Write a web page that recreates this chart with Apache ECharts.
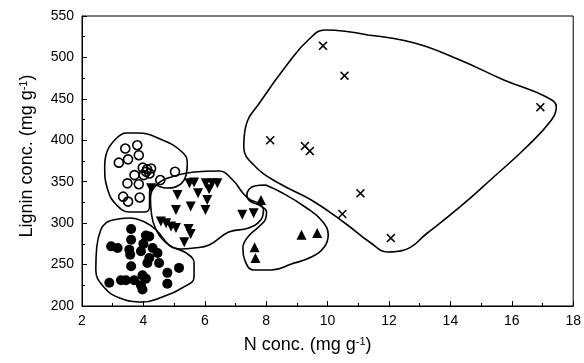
<!DOCTYPE html>
<html>
<head>
<meta charset="utf-8">
<script src="https://cdn.jsdelivr.net/npm/echarts@6/dist/echarts.min.js"></script>
<style>
html,body{margin:0;padding:0;background:#fff;}
#chart{width:584px;height:363px;}
</style>
</head>
<body>
<div id="chart"></div>
<script>
// ---- data (N conc., Lignin conc.) ----
var openCircles = [[3.41,390],[3.8,394],[3.85,382],[3.5,377],[3.2,373],[3.98,367],[4.25,366],[4.09,362],[4.2,360],[3.71,358],[4.01,358],[4.55,352],[5.03,362],[3.48,348],[3.85,347],[3.34,332],[3.5,326],[3.88,331],[4.12,365]];
var filledCircles = [[3.6,293],[4.19,284],[4.08,285],[3.6,280],[2.95,272],[3.16,270],[3.54,268],[3.92,266],[4.46,264],[4.19,258],[3.57,262],[4.13,252],[4.51,252],[3.6,248],[4.78,240],[5.16,246],[3.97,237],[2.89,228],[3.27,231],[3.43,231],[3.7,231],[3.92,225],[3.97,220],[4.78,227],[4.08,233],[4.3,270],[4.0,275]];
var downTriangles = [[4.25,342],[5.11,334],[5.5,348],[5.65,349],[6.03,348],[6.24,348],[6.41,348],[6.14,341],[5.78,336],[6.08,328],[5.06,316],[5.54,320],[6.02,316],[7.22,310],[7.59,312],[4.57,302],[4.74,300],[4.9,296],[5.06,294],[5.47,293],[5.54,287],[5.33,277]];
var upTriangles = [[7.83,328],[9.15,286],[9.66,288],[7.62,271],[7.65,258]];
var crosses = [[9.85,514],[10.55,478],[16.93,440],[8.13,400],[9.26,393],[9.42,387],[11.07,336],[10.48,311],[12.06,282]];

// enclosing outlines (hand-drawn groups in the reference)
var outlineOpen = [[3.13,402.8],[3.45,408.8],[3.81,408.8],[4.62,400.3],[5.26,385.9],[5.43,372.6],[5.39,358.1],[5.17,346.0],[4.75,342.4],[4.36,346.0],[4.20,336.4],[4.20,319.5],[4.04,313.4],[3.55,313.4],[3.13,321.9],[2.84,340.0],[2.74,367.8],[2.81,385.9],[3.13,402.8]];
var outlineFilled = [[3.00,303.8],[3.55,306.2],[4.04,301.4],[4.42,291.7],[4.84,273.6],[5.39,264.0],[5.65,251.9],[5.65,235.0],[5.26,221.7],[4.62,210.9],[3.97,204.8],[3.23,209.7],[2.74,221.7],[2.45,243.5],[2.48,271.2],[2.61,291.7],[2.78,300.2],[3.00,303.8]];
var outlineDown = [[4.91,355.7],[5.65,361.7],[6.46,362.9],[6.91,352.1],[7.24,336.4],[7.49,327.9],[7.75,324.3],[7.91,315.9],[7.82,303.8],[7.43,294.1],[6.78,289.3],[6.14,273.6],[5.65,270.0],[5.20,268.8],[4.75,276.0],[4.39,294.1],[4.26,312.2],[4.23,330.3],[4.46,347.2],[4.91,355.7]];
var outlineUp = [[7.98,346.0],[8.53,336.4],[9.27,319.5],[9.82,302.6],[10.02,285.7],[9.89,271.2],[9.47,259.1],[8.82,250.7],[8.17,243.5],[7.59,243.5],[7.30,255.5],[7.24,270.0],[7.43,284.5],[7.75,295.3],[7.98,305.0],[8.01,313.4],[7.82,320.7],[7.46,327.0],[7.37,334.0],[7.62,344.8],[7.98,346.0]];
var outlineCross = [[11.31,527.1],[12.83,517.4],[14.31,496.9],[15.74,472.8],[17.13,452.2],[17.45,440.2],[17.29,424.5],[16.48,391.9],[15.41,355.7],[14.31,319.5],[13.25,288.1],[12.50,267.6],[11.95,265.2],[11.41,276.0],[10.56,300.2],[9.47,327.9],[8.40,348.4],[7.66,367.8],[7.27,391.9],[7.33,416.0],[7.85,448.6],[8.72,493.3],[9.37,521.0],[9.92,533.1],[11.31,527.1]];

var xMin = 2, xMax = 18, xStep = 2;
var yMin = 200, yMax = 550, yStep = 50;
var xTitle = 'N conc. (mg g{sup|-1})';
var yTitle = 'Lignin conc. (mg g{sup|-1})';

var FONT = 'Liberation Sans, Arial, sans-serif';
var chart = echarts.init(document.getElementById('chart'), null, {renderer:'canvas'});

function outline(data){
  return {type:'line', data:data, smooth:0.45, symbol:'none', silent:true, z:1,
    lineStyle:{color:'#000', width:1.6}};
}
var crossPath = 'path://M0,1.2L1.2,0L5,3.8L8.8,0L10,1.2L6.2,5L10,8.8L8.8,10L5,6.2L1.2,10L0,8.8L3.8,5Z';

var titleRich = {sup:{fontSize:11, verticalAlign:'top', padding:[0,0,8,0], fontFamily:FONT, color:'#000'}};

chart.setOption({
  animation:false,
  backgroundColor:'#fff',
  grid:{left:82, right:6, top:16, bottom:57, show:true, borderColor:'#000', borderWidth:1},
  xAxis:{type:'value', min:xMin, max:xMax, interval:xStep,
    name:xTitle, nameLocation:'middle', nameGap:30,
    nameTextStyle:{fontFamily:FONT, fontSize:18, color:'#000', padding:[0,40,0,0], rich:titleRich},
    axisLine:{lineStyle:{color:'#000', width:1}},
    axisTick:{inside:true, length:5, lineStyle:{color:'#000'}},
    minorTick:{show:true, splitNumber:2, length:3, lineStyle:{color:'#000'}},
    axisLabel:{fontFamily:FONT, fontSize:14, color:'#000', margin:8},
    splitLine:{show:false}},
  yAxis:{type:'value', min:yMin, max:yMax, interval:yStep,
    name:yTitle, nameLocation:'middle', nameGap:45, nameRotate:90,
    nameTextStyle:{fontFamily:FONT, fontSize:18, color:'#000', padding:[0,0,0,10], rich:titleRich},
    axisLine:{lineStyle:{color:'#000', width:1}},
    axisTick:{inside:true, length:5, lineStyle:{color:'#000'}},
    minorTick:{show:true, splitNumber:2, length:3, lineStyle:{color:'#000'}},
    axisLabel:{fontFamily:FONT, fontSize:14, color:'#000', margin:8},
    splitLine:{show:false}},
  series:[
    outline(outlineOpen), outline(outlineFilled), outline(outlineDown), outline(outlineUp), outline(outlineCross),
    {type:'scatter', data:openCircles, symbol:'circle', symbolSize:9, z:3,
      itemStyle:{color:'rgba(255,255,255,0)', borderColor:'#000', borderWidth:1.6, opacity:1}},
    {type:'scatter', data:filledCircles, symbol:'circle', symbolSize:10, z:3,
      itemStyle:{color:'#000', opacity:1}},
    {type:'scatter', data:downTriangles, symbol:'triangle', symbolRotate:180, symbolSize:10, z:3,
      itemStyle:{color:'#000', opacity:1}},
    {type:'scatter', data:upTriangles, symbol:'triangle', symbolSize:10, z:3,
      itemStyle:{color:'#000', opacity:1}},
    {type:'scatter', data:crosses, symbol:crossPath, symbolSize:9, z:3,
      itemStyle:{color:'#000', opacity:1}}
  ]
});
</script>
</body>
</html>
